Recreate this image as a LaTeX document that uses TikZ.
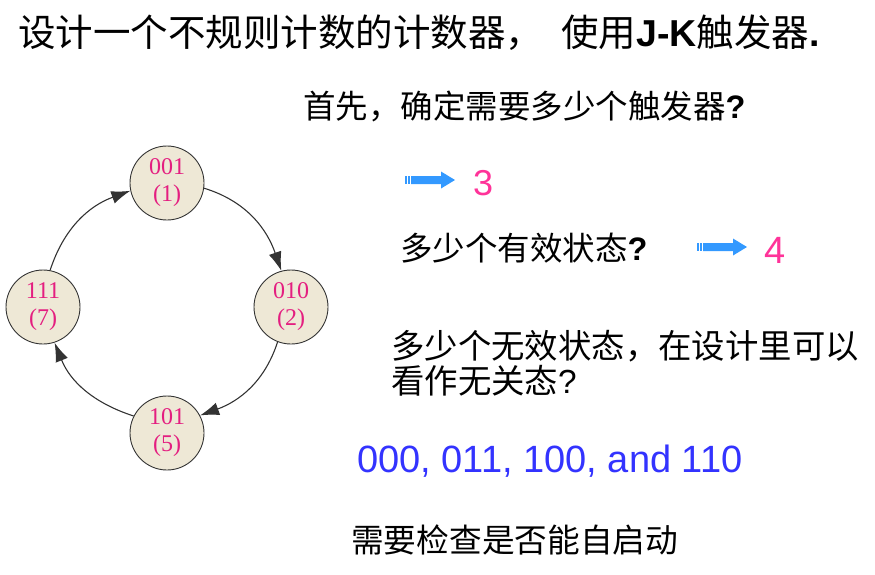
\documentclass[tikz,border=0pt]{standalone}
\usepackage{fontspec}
\setmainfont{Liberation Sans}
\newfontfamily\cjk{Noto Sans CJK SC}
\newfontfamily\statefont{Liberation Serif}
\usetikzlibrary{arrows.meta}
\definecolor{statefill}{RGB}{238,232,214}
\definecolor{statetext}{RGB}{228,30,128}
\definecolor{answer}{RGB}{255,51,153}
\definecolor{arrowblue}{RGB}{51,153,255}
\definecolor{listblue}{RGB}{51,51,255}
\newcommand{\blockarrow}[1]{%
  \begin{scope}[shift={#1}]
    \fill[arrowblue] (0,-4) rectangle (2,4);
    \fill[arrowblue] (3,-4) rectangle (5,4);
    \fill[arrowblue] (6,-4) -- (36,-4) -- (36,-8.5) -- (50,0) -- (36,8.5) -- (36,4) -- (6,4) -- cycle;
  \end{scope}}
\tikzset{
  txt/.style={anchor=base west, inner sep=0pt},
  state/.style={circle, draw=black!80, line width=0.9pt, fill=statefill, minimum size=74pt,
    inner sep=0pt, align=center, text=statetext, font=\statefont\fontsize{24}{27}\selectfont},
  flow/.style={draw=black!80, line width=1.1pt, -{Latex[length=19pt,width=13pt]}},
}

\begin{document}
\begin{tikzpicture}[x=1pt,y=1pt]
   \useasboundingbox (0,0) rectangle (875,-574);
   \node[txt, font=\fontsize{37.5}{44}\selectfont] (title) at (18,-46)
      {{\cjk 设计一个不规则计数的计数器，\hspace{18pt}使用}\textbf{J-K}{\cjk 触发器}\textbf{.}};
   % state diagram
   \node[state] (s1) at (167,-183) {001\\(1)};
   \node[state] (s2) at (291,-307) {010\\(2)};
   \node[state] (s5) at (167,-433) {101\\(5)};
   \node[state] (s7) at (43,-307) {111\\(7)};
   \draw[flow] (s1.-8) to[out=-17, in=109] (s2.105);
   \draw[flow] (s2.-111) to[out=-108, in=20] (s5.28);
   \draw[flow] (s5.153) to[out=162, in=-68] (s7.-72);
   \draw[flow] (s7.79) to[out=72, in=200] (s1.192);
   % questions
   \node[txt, font=\cjk\fontsize{32.5}{38}\selectfont] (q1) at (303,-118)
      {首先，确定需要多少个触发器{\normalfont\bfseries ?}};
   \blockarrow{(405,-180)}
   \node[txt, text=answer, font=\fontsize{36}{42}\selectfont] (a1) at (473,-195) {3};
   \node[txt, font=\cjk\fontsize{32.5}{38}\selectfont] (q2) at (400,-260)
      {多少个有效状态{\normalfont\bfseries ?}};
   \blockarrow{(697,-247)}
   \node[txt, text=answer, font=\fontsize{38}{44}\selectfont] (a2) at (764,-263) {4};
   \node[txt, font=\cjk\fontsize{33.4}{38}\selectfont] (q3) at (391,-358)
      {多少个无效状态，在设计里可以};
   \node[txt, font=\cjk\fontsize{33.4}{38}\selectfont] (q3b) at (391,-393)
      {看作无关态{\normalfont ?}};
   \node[txt, text=listblue, font=\fontsize{38}{44}\selectfont] (unused) at (357,-472)
      {000, 011, 100, and 110};
   \node[txt, font=\cjk\fontsize{32.7}{38}\selectfont] (q4) at (351,-552)
      {需要检查是否能自启动};
\end{tikzpicture}
\end{document}
